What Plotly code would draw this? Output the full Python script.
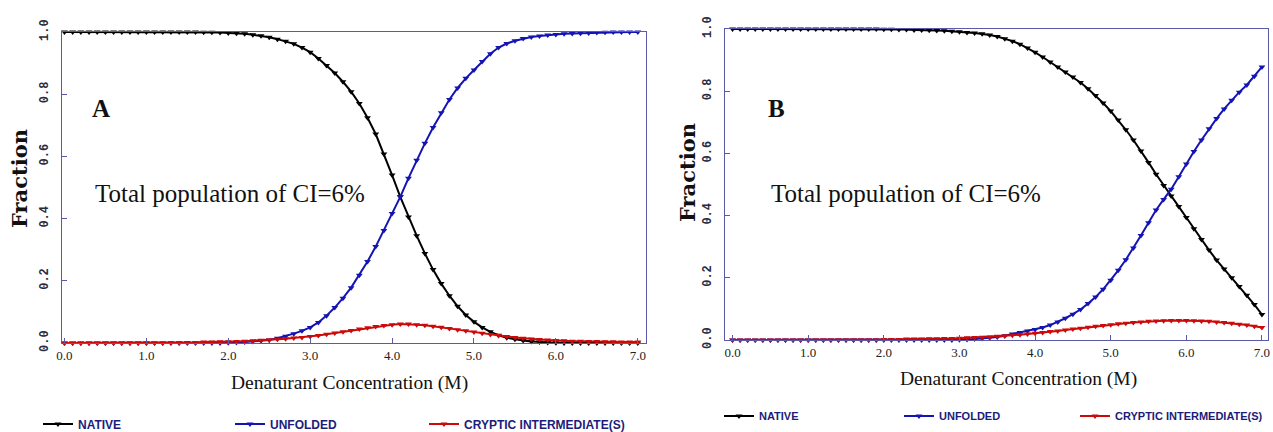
import plotly.graph_objects as go

W, H = 1273, 432

conc = [0.0, 0.1, 0.2, 0.3, 0.4, 0.5, 0.6, 0.7, 0.8, 0.9,
        1.0, 1.1, 1.2, 1.3, 1.4, 1.5, 1.6, 1.7, 1.8, 1.9,
        2.0, 2.1, 2.2, 2.3, 2.4, 2.5, 2.6, 2.7, 2.8, 2.9,
        3.0, 3.1, 3.2, 3.3, 3.4, 3.5, 3.6, 3.7, 3.8, 3.9,
        4.0, 4.1, 4.2, 4.3, 4.4, 4.5, 4.6, 4.7, 4.8, 4.9,
        5.0, 5.1, 5.2, 5.3, 5.4, 5.5, 5.6, 5.7, 5.8, 5.9,
        6.0, 6.1, 6.2, 6.3, 6.4, 6.5, 6.6, 6.7, 6.8, 6.9, 7.0]

# Panel A
native_a = [1.000] * 17 + [
    0.999, 0.999, 0.998,
    0.997, 0.996, 0.994, 0.991, 0.988, 0.983, 0.977, 0.970, 0.962, 0.950,
    0.935, 0.915, 0.892, 0.868, 0.840, 0.808, 0.770, 0.724, 0.672, 0.608,
    0.540, 0.470, 0.405, 0.345, 0.288, 0.236, 0.191, 0.152, 0.118, 0.090,
    0.068, 0.050, 0.036, 0.025, 0.017, 0.012, 0.008, 0.005, 0.003, 0.002,
    0.001] + [0.000] * 10
unfolded_a = [0.000] * 20 + [
    0.001, 0.002, 0.003, 0.005, 0.007, 0.010, 0.015, 0.022, 0.030, 0.039,
    0.050, 0.066, 0.088, 0.114, 0.144, 0.178, 0.218, 0.262, 0.310, 0.362,
    0.416, 0.470, 0.530, 0.588, 0.642, 0.693, 0.740, 0.783, 0.820, 0.851,
    0.878, 0.905, 0.930, 0.950, 0.963, 0.972, 0.979, 0.984, 0.987, 0.990,
    0.992, 0.994, 0.995, 0.996, 0.997, 0.998, 0.999, 1.000, 1.000, 1.000,
    1.000]
cryptic_a = [0.000] * 13 + [
    0.001, 0.001, 0.002, 0.002, 0.003, 0.003, 0.004,
    0.004, 0.005, 0.006, 0.007, 0.009, 0.010, 0.012, 0.014, 0.016, 0.018,
    0.021, 0.024, 0.028, 0.032, 0.036, 0.040, 0.045, 0.049, 0.053, 0.056,
    0.059, 0.061, 0.061, 0.059, 0.057, 0.054, 0.051, 0.047, 0.043, 0.039,
    0.035, 0.031, 0.027, 0.024, 0.021, 0.018, 0.015, 0.013, 0.011, 0.010,
    0.008, 0.007, 0.006, 0.006, 0.005, 0.005, 0.004, 0.004, 0.003, 0.003,
    0.003]

# Panel B
native_b = [1.000] * 20 + [
    0.999, 0.999, 0.998, 0.998, 0.997, 0.997, 0.996, 0.995, 0.994, 0.993,
    0.991, 0.989, 0.987, 0.985, 0.981, 0.976, 0.969, 0.961, 0.951, 0.939,
    0.925, 0.910, 0.894, 0.878, 0.862, 0.846, 0.828, 0.808, 0.786, 0.762,
    0.736, 0.707, 0.676, 0.643, 0.608, 0.571, 0.533, 0.497, 0.463, 0.429,
    0.394, 0.358, 0.323, 0.289, 0.257, 0.228, 0.200, 0.172, 0.144, 0.114,
    0.082]
unfolded_b = [0.000] * 30 + [
    0.001, 0.002, 0.003, 0.005, 0.007, 0.010, 0.014, 0.019, 0.024, 0.029,
    0.034, 0.040, 0.048, 0.058, 0.070, 0.083, 0.098, 0.117, 0.138, 0.163,
    0.192, 0.224, 0.258, 0.296, 0.336, 0.377, 0.418, 0.452, 0.485, 0.525,
    0.566, 0.606, 0.643, 0.679, 0.712, 0.743, 0.771, 0.797, 0.820, 0.848,
    0.878]
cryptic_b = [0.000] * 20 + [
    0.002, 0.002, 0.002, 0.003, 0.003, 0.003, 0.004, 0.004, 0.005, 0.005,
    0.006, 0.007, 0.008, 0.009, 0.010, 0.012, 0.013, 0.015, 0.017, 0.019,
    0.022, 0.024, 0.027, 0.029, 0.032, 0.035, 0.038, 0.041, 0.044, 0.047,
    0.049, 0.052, 0.054, 0.056, 0.058, 0.060, 0.061, 0.062, 0.063, 0.063,
    0.063, 0.062, 0.061, 0.060, 0.058, 0.056, 0.054, 0.051, 0.048, 0.044,
    0.040]

series_names = ["NATIVE", "UNFOLDED", "CRYPTIC INTERMEDIATE(S)"]
series_colors = ["#000000", "#1414b4", "#cc0a0a"]

x_tickvals = [0, 1, 2, 3, 4, 5, 6, 7]
x_ticktext = ["0.0", "1.0", "2.0", "3.0", "4.0", "5.0", "6.0", "7.0"]
y_tickvals = [0, 0.2, 0.4, 0.6, 0.8, 1.0]
y_ticktext = ["0.0", "0.2", "0.4", "0.6", "0.8", "1.0"]

x_title = "Denaturant Concentration (M)"
y_title = "Fraction"
note = "Total population of CI=6%"

FRAME = "#5a5aa8"


def px2x(p):
    return p / W


def px2y(p):
    return 1 - p / H


fig = go.Figure()

panels = [
    ("x", "y", ["legend", "legend2", "legend3"],
     [native_a, unfolded_a, cryptic_a]),
    ("x2", "y2", ["legend4", "legend5", "legend6"],
     [native_b, unfolded_b, cryptic_b]),
]
for xa, ya, lgs, vals in panels:
    for name, col, v, lg in zip(series_names, series_colors, vals, lgs):
        fig.add_trace(go.Scatter(
            x=conc, y=v, name=name, xaxis=xa, yaxis=ya, legend=lg,
            mode="lines+markers", cliponaxis=False,
            line=dict(color=col, width=2),
            marker=dict(symbol="triangle-down", size=6, color=col),
        ))


def xaxis_cfg(l, r, rng, anchor):
    return dict(
        domain=[px2x(l), px2x(r)], range=rng, automargin=False, anchor=anchor,
        tickvals=x_tickvals, ticktext=x_ticktext,
        ticks="inside", ticklen=5, tickcolor=FRAME, tickwidth=1,
        showline=True, linecolor=FRAME, linewidth=1, mirror=True,
        showgrid=False, zeroline=False,
        tickfont=dict(family="Liberation Serif", size=13, color="#222222"),
    )


def yaxis_cfg(t, b, anchor):
    return dict(
        domain=[px2y(b), px2y(t)], range=[0, 1], automargin=False,
        anchor=anchor,
        tickvals=y_tickvals, ticktext=y_ticktext, tickangle=-90,
        ticks="inside", ticklen=5, tickcolor=FRAME, tickwidth=1,
        ticklabelstandoff=8,
        showline=True, linecolor=FRAME, linewidth=1, mirror=True,
        showgrid=False, zeroline=False,
        tickfont=dict(family="Liberation Mono", size=12, color="#2a2a40",
                      weight="bold"),
    )


def legend_cfg(px, py, size):
    return dict(orientation="h", x=px2x(px), y=px2y(py), xanchor="left",
                yanchor="middle",
                font=dict(family="Liberation Sans", size=size,
                          color="#1c1c7a", weight="bold"),
                bgcolor="rgba(0,0,0,0)", itemwidth=30)


fig.update_layout(
    width=W, height=H,
    margin=dict(l=0, r=0, t=0, b=0, autoexpand=False),
    paper_bgcolor="white", plot_bgcolor="white",
    xaxis=xaxis_cfg(62, 646, [-0.03, 7.1], "y"),
    yaxis=yaxis_cfg(32, 343, "x"),
    xaxis2=xaxis_cfg(725, 1268, [-0.1, 7.08], "y2"),
    yaxis2=yaxis_cfg(29, 340, "x2"),
    legend=legend_cfg(38, 424, 12),
    legend2=legend_cfg(230, 424, 12),
    legend3=legend_cfg(424, 424, 12),
    legend4=legend_cfg(719, 416, 11),
    legend5=legend_cfg(899, 416, 11),
    legend6=legend_cfg(1075, 416, 11),
    showlegend=True,
)

serif = "Liberation Serif"
ann = []


def add_text(cx, cy, txt, font, **kw):
    d = dict(x=px2x(cx), y=px2y(cy), xref="paper", yref="paper",
             text=txt, showarrow=False, xanchor="center", yanchor="middle",
             font=font)
    d.update(kw)
    ann.append(d)


for cx, cy in [(349, 383), (1018, 379)]:
    add_text(cx, cy, x_title, dict(family=serif, size=19.5, color="#111111"))
for cx, cy in [(19, 179), (687, 173)]:
    add_text(cx, cy, y_title, dict(family="DejaVu Serif", size=21,
                                   color="#111111", weight="bold"),
             textangle=-90)
for cx, cy, txt in [(101, 108, "A"), (776, 108, "B")]:
    add_text(cx, cy, txt, dict(family=serif, size=25, color="#111111",
                               weight="bold"))
for lx, cy in [(93, 193), (769, 193)]:
    add_text(lx, cy, note, dict(family=serif, size=25, color="#111111"),
             xanchor="left")

fig.update_layout(annotations=ann)

# remove the browser's default page margin so the figure fills the window
fig.write_html("out.html",
               config={"displayModeBar": False},
               post_script="document.body.style.margin='0px';")
